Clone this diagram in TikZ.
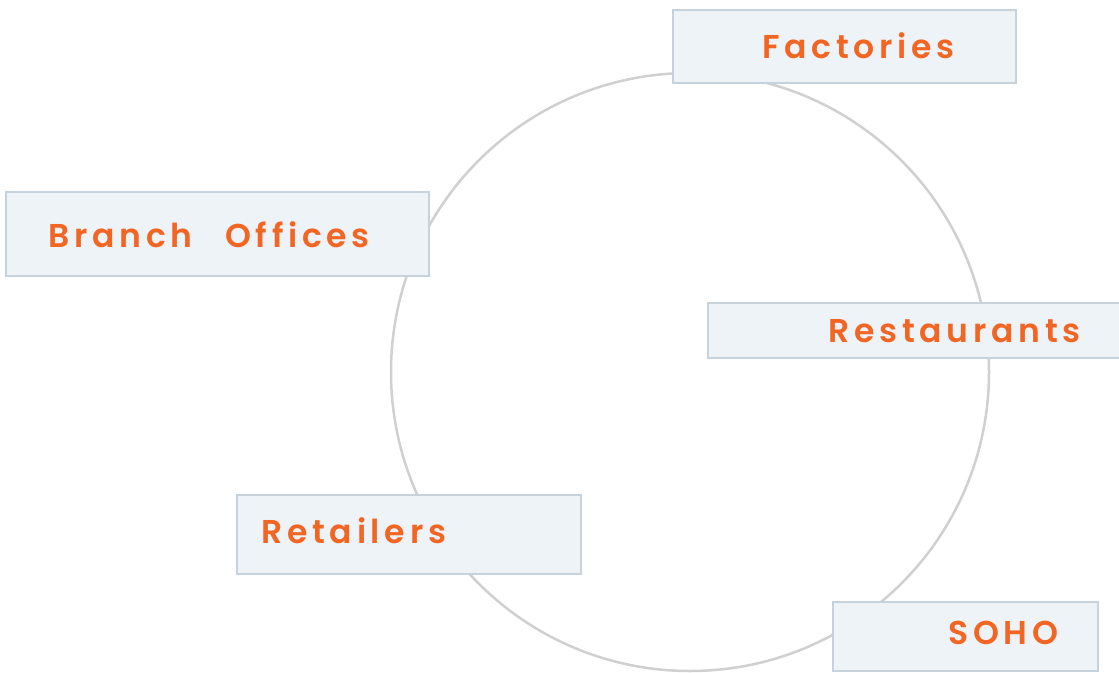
\documentclass[tikz,border=0pt]{standalone}
\usepackage{fontspec}
\setmainfont{Poppins}[UprightFont=* SemiBold]
\definecolor{ringgray}{HTML}{D0D0D2}
\definecolor{boxline}{HTML}{C6D3DD}
\definecolor{boxfill}{HTML}{EEF3F8}
\definecolor{labelorange}{HTML}{F26522}
\begin{document}
\begin{tikzpicture}[x=1pt,y=-1pt,
  ring/.style={draw=ringgray,line width=2.5pt},
  card/.style={draw=boxline,fill=boxfill,line width=2.8pt,rectangle,inner sep=0pt},
  cardtext/.style={anchor=base west,inner sep=0pt,text=labelorange,
    font=\fontsize{33}{40}\selectfont\addfontfeature{LetterSpace=14.5}}]
\useasboundingbox (0,0) rectangle (1119,672);
\fill[white] (0,0) rectangle (1119,672);
\node[circle,minimum size=598pt,ring,inner sep=0pt] (ring) at (690,372) {};
\node[card,minimum width=343pt,minimum height=73pt] (bfac) at (844.5,46.5) {};
\node[card,minimum width=423pt,minimum height=84pt] (bbra) at (217.5,234) {};
\node[card,minimum width=414pt,minimum height=55pt] (bres) at (915,330.5) {};
\node[card,minimum width=344pt,minimum height=79pt] (bret) at (409,534.5) {};
\node[card,minimum width=265pt,minimum height=69pt] (bsoh) at (965.5,636.5) {};
\node[cardtext] (tfac) at (762,58) {Factories};
\node[cardtext] (tbra) at (48,247) {Branch\hspace{20pt} Offices};
\node[cardtext] (tres) at (828,342) {Restaurants};
\node[cardtext] (tret) at (261,543) {Retailers};
\node[cardtext] (tsoh) at (948,644) {SOHO};
\end{tikzpicture}
\end{document}
